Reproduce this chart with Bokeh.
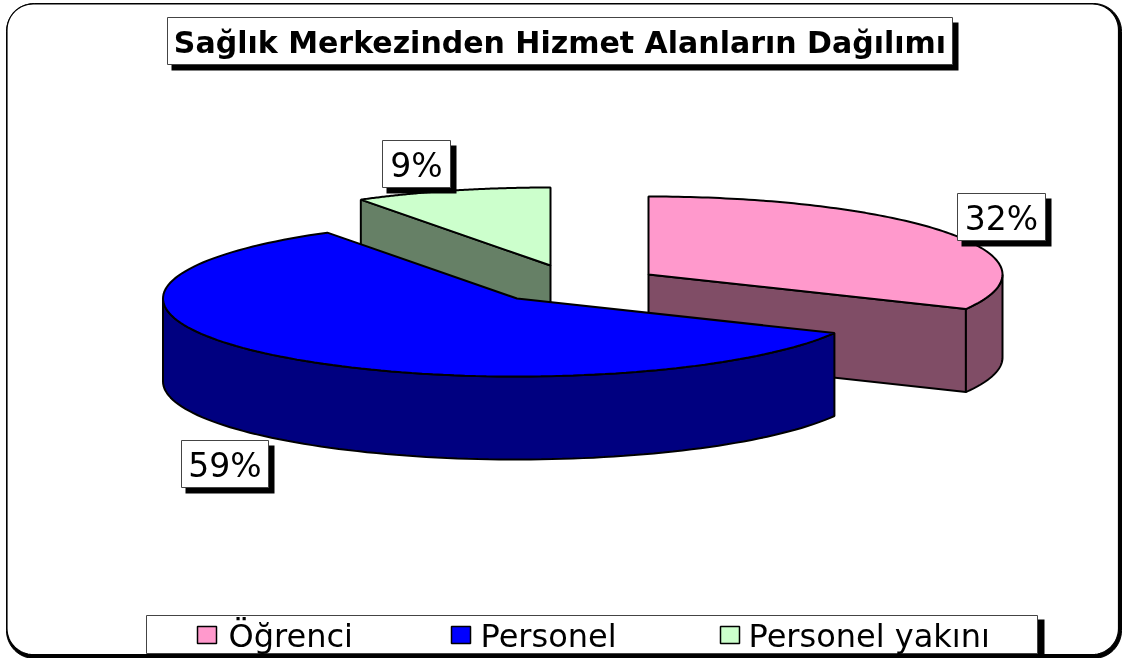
import math
from bokeh.plotting import figure
from bokeh.models import Range1d
from bokeh.core.properties import value
from bokeh.embed import file_html
from bokeh.resources import INLINE

# ---- data
categories = ["Öğrenci", "Personel", "Personel yakını"]
shares = [32.3, 58.7, 9.0]
title_text = "Sağlık Merkezinden Hizmet Alanların Dağılımı"

# ---- style / layout
top_colors = ["#FF99CC", "#0000FF", "#CCFFCC"]
wall_colors = ["#804D66", "#000080", "#668066"]
slice_centers = [(648, 274), (516.5, 298), (550, 265)]
label_boxes = [(957, 193, 1045, 240), (181, 440, 268, 487), (382, 140, 450, 187)]
legend_marks = [197, 451, 720]
legend_texts = [228, 480, 748]
RX, RY, DEPTH = 354, 78, 83
draw_order = [2, 0, 1]
FONT = value("DejaVu Sans")

p = figure(width=1122, height=658, output_backend="svg", toolbar_location=None,
           x_range=Range1d(0, 1122), y_range=Range1d(658, 0),
           min_border=0, outline_line_color=None, x_axis_location=None, y_axis_location=None)
p.grid.visible = False
p.background_fill_color = "white"
p.border_fill_color = "white"
p.styles = {"position": "fixed", "left": "0px", "top": "0px"}


def rounded(x0, y0, x1, y1, r, n=16):
    xs, ys = [], []
    for cx, cy, a0 in [(x1 - r, y0 + r, -90), (x1 - r, y1 - r, 0), (x0 + r, y1 - r, 90), (x0 + r, y0 + r, 180)]:
        for i in range(n + 1):
            a = math.radians(a0 + 90 * i / n)
            xs.append(cx + r * math.cos(a))
            ys.append(cy + r * math.sin(a))
    return xs, ys


def box(x0, y0, x1, y1, shadow=6, fs="27px", text=None, bold=False):
    p.quad(left=[x0 + shadow - 2], right=[x1 + shadow], top=[y0 + shadow - 1], bottom=[y1 + shadow],
           fill_color="black", line_color=None)
    p.quad(left=[x0], right=[x1], top=[y0], bottom=[y1], fill_color="white", line_color="#444444", line_width=1)
    if text:
        p.text(x=[(x0 + x1) / 2], y=[(y0 + y1) / 2 + 1], text=[text], text_font=FONT,
               text_font_size=fs, text_align="center", text_baseline="middle",
               text_font_style="bold" if bold else "normal", text_color="black")


# frame
fx, fy = rounded(6, 3, 1121, 658, 28)
p.patch(fx, fy, fill_color="black", line_color="black")
fx, fy = rounded(6.5, 3.5, 1118, 654, 26)
p.patch(fx, fy, fill_color="white", line_color="black", line_width=1.2)


def pt(c, th):
    return c[0] + RX * math.sin(th), c[1] - RY * math.cos(th)


# slices (clockwise from 12 o'clock)
spans = []
acc = 0
for s in shares:
    spans.append((acc / 100 * 2 * math.pi, (acc + s) / 100 * 2 * math.pi))
    acc += s

for i in draw_order:
    a0, a1 = spans[i]
    c = slice_centers[i]
    col, wall = top_colors[i], wall_colors[i]
    for th, vis in [(a0, math.sin(a0) < -1e-9), (a1, math.sin(a1) > 1e-9)]:
        if vis:
            ex, ey = pt(c, th)
            p.patch([c[0], ex, ex, c[0]], [c[1], ey, ey + DEPTH, c[1] + DEPTH],
                    fill_color=wall, line_color="black", line_width=2)
    f0, f1 = max(a0, math.pi / 2), min(a1, 3 * math.pi / 2)
    if f1 > f0:
        n = 90
        ths = [f0 + (f1 - f0) * k / n for k in range(n + 1)]
        arc = [pt(c, t) for t in ths]
        xs = [q[0] for q in arc] + [q[0] for q in reversed(arc)]
        ys = [q[1] for q in arc] + [q[1] + DEPTH for q in reversed(arc)]
        p.patch(xs, ys, fill_color=wall, line_color="black", line_width=2)
    n = 120
    arc = [pt(c, a0 + (a1 - a0) * k / n) for k in range(n + 1)]
    p.patch([c[0]] + [q[0] for q in arc], [c[1]] + [q[1] for q in arc],
            fill_color=col, line_color="black", line_width=2)

# title
box(167, 17, 952, 64, text=title_text, bold=True, fs="30px")

# data labels
for (x0, y0, x1, y1), s in zip(label_boxes, shares):
    box(x0, y0, x1, y1, fs="33px", text=f"{round(s)}%")

# legend
p.quad(left=[150], right=[1044], top=[619], bottom=[654], fill_color="black", line_color=None)
p.quad(left=[146], right=[1037], top=[615], bottom=[653], fill_color="white", line_color="#444444", line_width=1)
for name, col, mx, tx in zip(categories, top_colors, legend_marks, legend_texts):
    p.quad(left=[mx], right=[mx + 19], top=[626], bottom=[643], fill_color=col, line_color="black", line_width=1.5)
    p.text(x=[tx], y=[635], text=[name], text_font=FONT, text_font_size="32px",
           text_align="left", text_baseline="middle", text_color="black")

open("out.html", "w").write(file_html(p, INLINE))
